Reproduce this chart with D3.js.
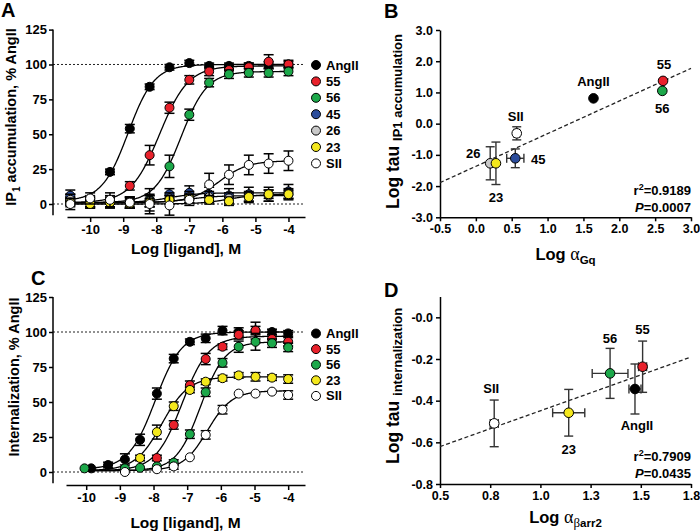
<!DOCTYPE html>
<html><head><meta charset="utf-8">
<script src="https://cdn.jsdelivr.net/npm/d3@7"></script>
<style>
body{margin:0;background:#fff}
svg{display:block}
text{font-family:"Liberation Sans",Arial,Helvetica,sans-serif;font-weight:bold;fill:#000}
</style>
</head><body><svg id="c" width="700" height="531"></svg>
<script>
// ================= DATA =================
// ---- Panel A: IP1 accumulation (% AngII) vs log[ligand] ----
const concA = [-10.6,-10,-9.4,-8.8,-8.2,-7.6,-7,-6.4,-5.8,-5.2,-4.6,-4];
const namesA = ["AngII","55","56","45","26","23","SII"];
const A_AngII = [2,3,23,54,84,98,101,99,99,99,100,100];
const A_55    = [4,1,1,13,35,69,89,95,96,98,102,100];
const A_56    = [2,1,1,1,3,27,64,87,93,94,94,95];
const A_45    = [6,2,1,1,2,7,8,7,6,7,7,9];
const A_26    = [3,1,2,1,2,4,5,5,4,5,6,7];
const A_23    = [1,0,1,0,1,3,4,3,2,5,7,7];
const A_SII   = [0,4,3,1,0,-1,3,14,21,28,29,31];
const A_AngII_err = [2,2,2,3,2,2,2,2,2,2,2,2];
const A_55_err    = [3,3,3,3,7,4,3,3,3,3,5,3];
const A_56_err    = [3,3,3,3,8,8,4,3,3,3,3,3];
const A_45_err    = [4,4,4,4,4,4,5,5,5,5,5,5];
const A_26_err    = [4,4,4,4,4,4,4,4,4,4,4,4];
const A_23_err    = [3,3,3,3,3,3,3,3,3,3,3,3];
const A_SII_err   = [4,4,5,4,7,7,4,8,7,7,7,7];
// fitted sigmoid parameters (bottom, top, logEC50, Hill)
const fitA_bottom = [2,1,1,1,1,0,1];
const fitA_top    = [100,99,95,8,6,7,31];
const fitA_ec50   = [-8.85,-7.9,-7.25,-7.6,-7.0,-5.8,-6.1];
const fitA_hill   = [1.1,1,1.1,1,1,1,1];

// ---- Panel C: Internalization (% AngII) vs log[ligand] ----
const concC = [-10.05,-9.85,-9.35,-8.85,-8.4,-7.9,-7.4,-6.92,-6.45,-5.95,-5.47,-4.97,-4.48,-4.0];
const namesC = ["AngII","55","56","23","SII"];
const C_AngII = [null,2.6,5,9,23,56,81,93,95.5,101,100,101,100,99];
const C_55    = [null,null,null,null,null,10,33.6,62,80.7,89.5,98,101,95,93];
const C_56    = [2.6,null,null,2.6,3,4,6.7,27,57,78,89.5,93,92,89];
const C_23    = [null,null,null,null,10,28.5,47,58.6,64.5,67,69,68,67.4,66.4];
const C_SII   = [null,null,null,0,null,2,4,10.5,26.5,44.5,56,56,57.4,55];
const C_AngII_err = [0,1,2,4,4,4,3,2,3,3,3,3,2,2];
const C_55_err    = [0,0,0,0,0,2,3,3,4,2,3,6,3,3];
const C_56_err    = [1,0,0,1,1,1,2,3,3,3,4,6,3,3];
const C_23_err    = [0,0,0,0,2,5,3,2,2,2,2,3,2,3];
const C_SII_err   = [0,0,0,1,0,1,2,1,3,3,1,1,1,3];
const fitC_bottom = [2,1,1,1,1];
const fitC_top    = [100,97,93,68,58];
const fitC_ec50   = [-7.95,-7.15,-6.6,-7.75,-6.4];
const fitC_hill   = [1.1,1.1,1.2,1.1,1.2];

const xTicksDR = [-10,-9,-8,-7,-6,-5,-4];
const xTickLabelsDR = ["-10","-9","-8","-7","-6","-5","-4"];
const yTicksDR = [0,25,50,75,100,125];
const yTickLabelsDR = ["0","25","50","75","100","125"];

// ---- Panel B: Log tau IP1 vs Log alpha Gq ----
const B_names = ["AngII","55","56","45","26","23","SII"];
const B_x     = [1.64,2.61,2.60,0.55,0.20,0.28,0.57];
const B_y     = [0.81,1.37,1.05,-1.11,-1.27,-1.27,-0.31];
const B_xerr  = [0,0,0,0.12,0,0,0.04];
const B_yerr  = [0,0,0,0.30,0.53,0.68,0.21];
const B_xTicks = [-0.5,0,0.5,1,1.5,2,2.5,3];
const B_xTickLabels = ["-0.5","0.0","0.5","1.0","1.5","2.0","2.5","3.0"];
const B_yTicks = [-3,-2,-1,0,1,2,3];
const B_yTickLabels = ["-3.0","-2.0","-1.0","0.0","1.0","2.0","3.0"];
const B_r2 = "0.9189", B_P = "0.0007";

// ---- Panel D: Log tau internalization vs Log alpha barr2 ----
const D_names = ["AngII","55","56","23","SII"];
const D_x     = [1.471,1.509,1.347,1.141,0.77];
const D_y     = [-0.344,-0.237,-0.269,-0.458,-0.509];
const D_xerr  = [0.03,0.02,0.089,0.08,0.02];
const D_yerr  = [0.12,0.123,0.12,0.112,0.112];
const D_xTicks = [0.5,0.75,1,1.25,1.5,1.75];
const D_xTickLabels = ["0.5","0.8","1.0","1.3","1.5","1.8"];
const D_yTicks = [-0.8,-0.6,-0.4,-0.2,0];
const D_yTickLabels = ["-0.8","-0.6","-0.4","-0.2","-0.0"];
const D_r2 = "0.7909", D_P = "0.0435";

// ================= STYLE =================
const colorOf = {"AngII":"#000000","55":"#e8212b","56":"#1ca84a","45":"#2b4c9b","26":"#c9c9c9","23":"#f4e81d","SII":"#ffffff"};
const SERIF = '"Liberation Serif","DejaVu Serif",serif';

const svg = d3.select("#c");

function sig(x,b,t,ec,h){ return b + (t-b)/(1+Math.pow(10,(ec-x)*h)); }

function styleAxis(g, fs){
  g.selectAll("path,line").attr("stroke","#000").attr("stroke-width",1.5);
  g.selectAll("text").attr("font-size",fs).attr("font-family",'"Liberation Sans",Arial,sans-serif').attr("font-weight","bold").attr("fill","#000");
  g.attr("font-size",null).attr("font-family",null);
}

// ------------- dose-response panel -------------
function doseResponse(L, conc, names, vals, errs, fits){
  const g = svg.append("g");
  const x = d3.scaleLinear().domain(L.xDomain).range(L.xRange);
  const y = d3.scaleLinear().domain([0,125]).range([L.y0, L.y125]);

  [0,100].forEach(v=>{
    g.append("line").attr("x1",L.yAxisX).attr("x2",L.xRange[1])
      .attr("y1",y(v)).attr("y2",y(v))
      .attr("stroke","#222").attr("stroke-width",1).attr("stroke-dasharray","2,2");
  });

  const ya = g.append("g").attr("transform",`translate(${L.yAxisX},0)`)
    .call(d3.axisLeft(y).tickValues(yTicksDR).tickFormat((d,i)=>yTickLabelsDR[i]).tickSize(4).tickPadding(2).tickSizeOuter(0));
  ya.select(".domain").remove();
  ya.append("line").attr("x1",0).attr("x2",0).attr("y1",y(L.yAxisMin)).attr("y2",y(125));
  styleAxis(ya, 13);

  const xa = g.append("g").attr("transform",`translate(0,${L.xAxisY})`)
    .call(d3.axisBottom(x).tickValues(xTicksDR).tickFormat((d,i)=>xTickLabelsDR[i]).tickSize(5).tickPadding(3).tickSizeOuter(0));
  styleAxis(xa, 13);

  const line = d3.line().x(d=>x(d[0])).y(d=>y(d[1])).curve(d3.curveLinear);
  names.forEach((nm,si)=>{
    const f = fits[si];
    const pts = d3.range(L.curveFrom, -3.999, 0.02).map(c=>[c, sig(c,f[0],f[1],f[2],f[3])]);
    g.append("path").attr("d",line(pts)).attr("fill","none").attr("stroke","#000").attr("stroke-width",1.3);
  });
  names.forEach((nm,si)=>{
    const v = vals[si], e = errs[si];
    const sg = g.append("g");
    conc.forEach((c,i)=>{
      if(v[i]==null) return;
      const cx = x(c);
      if(e[i] > 1.2){
        const y1 = y(v[i]+e[i]), y2 = y(v[i]-e[i]);
        sg.append("line").attr("x1",cx).attr("x2",cx).attr("y1",y1).attr("y2",y2).attr("stroke","#000").attr("stroke-width",1.5);
        [y1,y2].forEach(yy=>sg.append("line").attr("x1",cx-5).attr("x2",cx+5).attr("y1",yy).attr("y2",yy).attr("stroke","#000").attr("stroke-width",1.5));
      }
    });
    conc.forEach((c,i)=>{
      if(v[i]==null) return;
      sg.append("circle").attr("cx",x(c)).attr("cy",y(v[i])).attr("r",4.5)
        .attr("fill",colorOf[nm]).attr("stroke","#000").attr("stroke-width",1);
    });
  });

  names.forEach((nm,i)=>{
    const ly = L.legY + i*L.legStep;
    g.append("circle").attr("cx",L.legX).attr("cy",ly).attr("r",4.5).attr("fill",colorOf[nm]).attr("stroke","#000").attr("stroke-width",1);
    g.append("text").attr("x",L.legX+10).attr("y",ly+4.5).attr("font-size",13).text(nm);
  });

  g.append("text").attr("x",(L.xRange[0]+L.xRange[1])/2).attr("y",L.xTitleY).attr("text-anchor","middle").attr("font-size",15.5).text("Log [ligand], M");
  const yt = g.append("text").attr("transform",`translate(${L.yTitleX},${L.yTitleY}) rotate(-90)`).attr("text-anchor","middle").attr("font-size",L.yTitleFs);
  L.yTitle.forEach(p=>{
    const t = yt.append("tspan").text(p.t);
    if(p.sub) t.attr("font-size",L.yTitleFs*0.7).attr("dy",4);
    if(p.unsub) t.attr("dy",-4);
  });
  g.append("text").attr("x",L.letterX).attr("y",L.letterY).attr("font-size",20).text(L.letter);
}

// ------------- correlation panel -------------
function correlation(L, names, xs, ys, xe, ye, r2, P){
  const g = svg.append("g");
  const x = d3.scaleLinear().domain(L.xDomain).range(L.xRange);
  const y = d3.scaleLinear().domain(L.yDomain).range(L.yRange);

  const xa = g.append("g").attr("transform",`translate(0,${L.yRange[0]})`)
    .call(d3.axisBottom(x).tickValues(L.xTicks).tickFormat((d,i)=>L.xTickLabels[i]).tickSize(4).tickPadding(3).tickSizeOuter(0));
  styleAxis(xa, 12.5);
  const ya = g.append("g").attr("transform",`translate(${L.xRange[0]},0)`)
    .call(d3.axisLeft(y).tickValues(L.yTicks).tickFormat((d,i)=>L.yTickLabels[i]).tickSize(4).tickPadding(3).tickSizeOuter(0));
  styleAxis(ya, 12.5);

  const mx = d3.mean(xs), my = d3.mean(ys);
  let sxy=0, sxx=0;
  xs.forEach((v,i)=>{ sxy += (v-mx)*(ys[i]-my); sxx += (v-mx)*(v-mx); });
  const slope = sxy/sxx, icpt = my - slope*mx;
  const x0 = L.xDomain[0], x1 = L.xDomain[1];
  g.append("line").attr("x1",x(x0)).attr("y1",y(icpt+slope*x0)).attr("x2",x(x1)).attr("y2",y(icpt+slope*x1))
    .attr("stroke","#222").attr("stroke-width",1.3).attr("stroke-dasharray","4,2.5");

  names.forEach((nm,i)=>{
    const cx = x(xs[i]), cy = y(ys[i]);
    const eg = g.append("g").attr("stroke","#333").attr("stroke-width",1.4);
    if(ye[i]>0){
      const y1 = y(ys[i]+ye[i]), y2 = y(ys[i]-ye[i]);
      eg.append("line").attr("x1",cx).attr("x2",cx).attr("y1",y1).attr("y2",y2);
      [y1,y2].forEach(yy=>eg.append("line").attr("x1",cx-4.5).attr("x2",cx+4.5).attr("y1",yy).attr("y2",yy));
    }
    if(xe[i]>0){
      const xa1 = x(xs[i]-xe[i]), xa2 = x(xs[i]+xe[i]);
      eg.append("line").attr("x1",xa1).attr("x2",xa2).attr("y1",cy).attr("y2",cy);
      [xa1,xa2].forEach(xx=>eg.append("line").attr("x1",xx).attr("x2",xx).attr("y1",cy-4.5).attr("y2",cy+4.5));
    }
  });
  names.forEach((nm,i)=>{
    g.append("circle").attr("cx",x(xs[i])).attr("cy",y(ys[i])).attr("r",4.8)
      .attr("fill",colorOf[nm]).attr("stroke","#000").attr("stroke-width",1);
    const o = L.labelOff[nm];
    g.append("text").attr("x",x(xs[i])+o[0]).attr("y",y(ys[i])+o[1]+4.5).attr("text-anchor","middle").attr("font-size",13).text(nm);
  });

  const t1 = g.append("text").attr("x",L.statX).attr("y",L.statY).attr("text-anchor","end").attr("font-size",13);
  t1.append("tspan").text("r");
  t1.append("tspan").attr("font-size",9).attr("dy",-5).text("2");
  t1.append("tspan").attr("dy",5).text("=" + r2);
  const t2 = g.append("text").attr("x",L.statX).attr("y",L.statY+17).attr("text-anchor","end").attr("font-size",13);
  t2.append("tspan").attr("font-style","italic").text("P");
  t2.append("tspan").text("=" + P);

  const xt = g.append("text").attr("x",(L.xRange[0]+L.xRange[1])/2).attr("y",L.xTitleY).attr("text-anchor","middle").attr("font-size",16.5);
  xt.append("tspan").text("Log ");
  xt.append("tspan").attr("font-family",SERIF).attr("font-weight","normal").attr("font-size",18).text("\u03b1");
  L.xSub.forEach((p,k)=>{
    const t = xt.append("tspan").attr("font-size",11.5).text(p.t);
    if(k===0) t.attr("dy",4);
    if(p.greek) t.attr("font-family",SERIF).attr("font-weight","normal").attr("font-size",13);
  });
  const yt = g.append("text").attr("transform",`translate(${L.yTitleX},${L.yTitleY}) rotate(-90)`).attr("text-anchor","start").attr("font-size",17.5);
  yt.append("tspan").text("Log tau ");
  yt.append("tspan").attr("font-size",13).attr("dy",3).text(L.ySub);

  g.append("text").attr("x",L.letterX).attr("y",L.letterY).attr("font-size",20).text(L.letter);
}

// ================= DRAW =================
const valsA = [A_AngII,A_55,A_56,A_45,A_26,A_23,A_SII];
const errsA = [A_AngII_err,A_55_err,A_56_err,A_45_err,A_26_err,A_23_err,A_SII_err];
const fitsA = namesA.map((n,i)=>[fitA_bottom[i],fitA_top[i],fitA_ec50[i],fitA_hill[i]]);
doseResponse({
  xDomain:[-10.7,-3.5], xRange:[67,305], y0:204, y125:29.6, xAxisY:217, yAxisX:53, yAxisMin:-8,
  curveFrom:-10.7, legX:316, legY:65, legStep:16.4, xTitleY:254,
  yTitleX:16, yTitleY:117, yTitleFs:14.5,
  yTitle:[{t:"IP"},{t:"1",sub:true},{t:" accumulation, % AngII",unsub:true}],
  letter:"A", letterX:1, letterY:17
}, concA, namesA, valsA, errsA, fitsA);

const valsC = [C_AngII,C_55,C_56,C_23,C_SII];
const errsC = [C_AngII_err,C_55_err,C_56_err,C_23_err,C_SII_err];
const fitsC = namesC.map((n,i)=>[fitC_bottom[i],fitC_top[i],fitC_ec50[i],fitC_hill[i]]);
doseResponse({
  xDomain:[-10.6,-3.5], xRange:[66,305], y0:472, y125:297, xAxisY:485, yAxisX:53, yAxisMin:-8,
  curveFrom:-10.1, legX:316, legY:333.5, legStep:15.6, xTitleY:528,
  yTitleX:19, yTitleY:377, yTitleFs:14.5,
  yTitle:[{t:"Internalization, % AngII"}],
  letter:"C", letterX:31, letterY:285
}, concC, namesC, valsC, errsC, fitsC);

correlation({
  xDomain:[-0.5,3], xRange:[440,691], yDomain:[-3,3], yRange:[217.3,30],
  xTicks:B_xTicks, xTickLabels:B_xTickLabels, yTicks:B_yTicks, yTickLabels:B_yTickLabels,
  labelOff:{"AngII":[0,-17],"55":[1,-16],"56":[0,18],"SII":[-1,-17],"26":[-17,-10],"45":[23,1],"23":[0,34]},
  statX:691, statY:195, xTitleY:260, xSub:[{t:"Gq"}],
  yTitleX:399, yTitleY:209, ySub:"IP1 accumulation",
  letter:"B", letterX:384, letterY:18
}, B_names, B_x, B_y, B_xerr, B_yerr, B_r2, B_P);

correlation({
  xDomain:[0.5,1.75], xRange:[440,691], yDomain:[-0.8,0.1], yRange:[484,296.5],
  xTicks:D_xTicks, xTickLabels:D_xTickLabels, yTicks:D_yTicks, yTickLabels:D_yTickLabels,
  labelOff:{"AngII":[2,36],"55":[0,-37],"56":[0,-35],"23":[0,37],"SII":[-3,-35]},
  statX:691, statY:461, xTitleY:523, xSub:[{t:"\u03b2",greek:true},{t:"arr2"}],
  yTitleX:399, yTitleY:464, ySub:"internalization",
  letter:"D", letterX:384, letterY:297
}, D_names, D_x, D_y, D_xerr, D_yerr, D_r2, D_P);
</script>
</body></html>
